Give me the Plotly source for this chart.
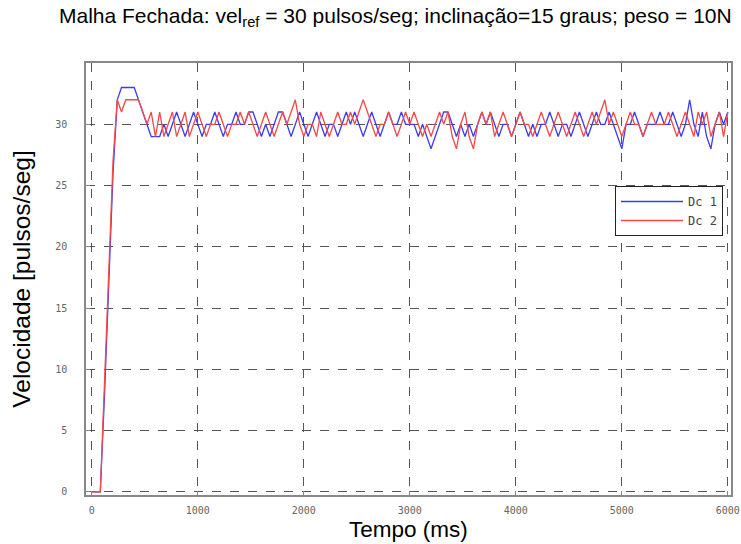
import plotly.graph_objects as go

# sample times (ms)
tempo = list(range(0, 6001, 40))

dc1 = [
    0, 0, 0, 8, 17, 26, 32, 33, 33, 33,
    33, 32, 31, 30, 29, 29, 29, 30, 29, 30,
    31, 30, 29, 30, 31, 30, 29, 30, 30, 31,
    30, 29, 30, 30, 31, 30, 30, 31, 31, 30,
    29, 30, 29, 30, 31, 31, 30, 29, 30, 31,
    30, 29, 30, 31, 30, 29, 30, 30, 29, 30,
    31, 30, 31, 30, 29, 30, 31, 30, 29, 30,
    31, 30, 30, 31, 30, 30, 30, 29, 30, 29,
    28, 29, 30, 31, 31, 30, 29, 30, 29, 30,
    29, 30, 31, 30, 31, 30, 29, 30, 30, 29,
    30, 31, 30, 29, 30, 29, 30, 30, 31, 30,
    29, 30, 30, 29, 30, 31, 30, 29, 30, 31,
    30, 30, 31, 30, 29, 28, 30, 30, 31, 30,
    29, 30, 30, 30, 31, 30, 30, 31, 30, 29,
    30, 32, 30, 29, 31, 29, 28, 30, 31, 30,
    31,
]

dc2 = [
    0, 0, 0, 9, 18, 27, 32, 31, 32, 32,
    32, 32, 31, 30, 31, 29, 31, 29, 30, 31,
    29, 30, 31, 29, 30, 31, 30, 29, 30, 30,
    31, 30, 29, 30, 30, 31, 30, 31, 30, 29,
    30, 31, 30, 29, 30, 31, 30, 31, 32, 30,
    29, 30, 30, 29, 31, 30, 29, 30, 31, 30,
    30, 31, 30, 31, 32, 31, 30, 29, 30, 30,
    31, 30, 29, 30, 31, 30, 31, 30, 29, 30,
    29, 30, 31, 30, 31, 29, 28, 30, 31, 29,
    28, 30, 31, 30, 31, 29, 30, 31, 30, 29,
    30, 31, 30, 30, 29, 30, 31, 30, 29, 30,
    31, 30, 29, 30, 31, 30, 29, 30, 31, 30,
    31, 32, 30, 31, 30, 29, 30, 31, 30, 30,
    29, 30, 31, 30, 30, 30, 31, 30, 29, 30,
    31, 30, 29, 31, 30, 31, 29, 30, 31, 29,
    31,
]

x_ticks = [0, 1000, 2000, 3000, 4000, 5000, 6000]
y_ticks = [0, 5, 10, 15, 20, 25, 30]

L, R, T, B = 86, 10, 63, 49
PW, PH = 741 - L - R, 544 - T - B

fig = go.Figure()
fig.add_trace(go.Scatter(x=tempo, y=dc1, mode="lines", name="Dc 1",
                         line=dict(color="#3c3cf5", width=1.3)))
fig.add_trace(go.Scatter(x=tempo, y=dc2, mode="lines", name="Dc 2",
                         line=dict(color="#f54848", width=1.3)))

tick_font = dict(family="DejaVu Sans Mono", size=10, color="#666666")

fig.update_layout(
    width=741, height=544,
    margin=dict(l=L, r=R, t=T, b=B, autoexpand=False),
    paper_bgcolor="white", plot_bgcolor="white",
    showlegend=True,
    legend=dict(x=(615 - L) / PW, y=(544 - B - 186) / PH, xanchor="left", yanchor="top",
                bgcolor="white", bordercolor="#222222", borderwidth=1,
                itemwidth=62, tracegroupgap=0,
                font=dict(family="DejaVu Sans Mono", size=12, color="#444444")),
    annotations=[
        dict(
            text="Malha Fechada: vel<sub>ref</sub> = 30 pulsos/seg; inclinação=15 graus; peso = 10N",
            x=(395 - L) / PW, y=1 + (T - 17) / PH, xref="paper", yref="paper", showarrow=False,
            font=dict(family="Liberation Sans", size=21, color="black"),
            xanchor="center", yanchor="middle",
        ),
        dict(
            text="Tempo (ms)",
            x=(408 - L) / PW, y=-(529 - (544 - B)) / PH, xref="paper", yref="paper", showarrow=False,
            font=dict(family="Liberation Sans", size=22.5, color="black"),
            xanchor="center", yanchor="middle",
        ),
    ],
)

fig.update_xaxes(
    range=[-55, 6030], tickvals=x_ticks, ticktext=[str(v) for v in x_ticks],
    showgrid=True, gridcolor="#555555", griddash="dash", gridwidth=1,
    showline=True, linecolor="#888888", linewidth=1.5, mirror=True,
    ticks="inside", ticklen=4, tickcolor="#888888",
    tickfont=tick_font, ticklabelstandoff=5, zeroline=False, automargin=False,
)
fig.update_yaxes(
    range=[-0.25, 35], tickvals=y_ticks, ticktext=[str(v) for v in y_ticks],
    showgrid=True, gridcolor="#555555", griddash="dash", gridwidth=1,
    showline=True, linecolor="#888888", linewidth=1.5, mirror=True,
    ticks="inside", ticklen=4, tickcolor="#888888",
    tickfont=tick_font, ticklabelstandoff=15, zeroline=False, automargin=False,
    title=dict(text="Velocidade [pulsos/seg]", font=dict(family="Liberation Sans", size=24.5, color="black"),
               standoff=18),
)

fig.write_html("out.html")
